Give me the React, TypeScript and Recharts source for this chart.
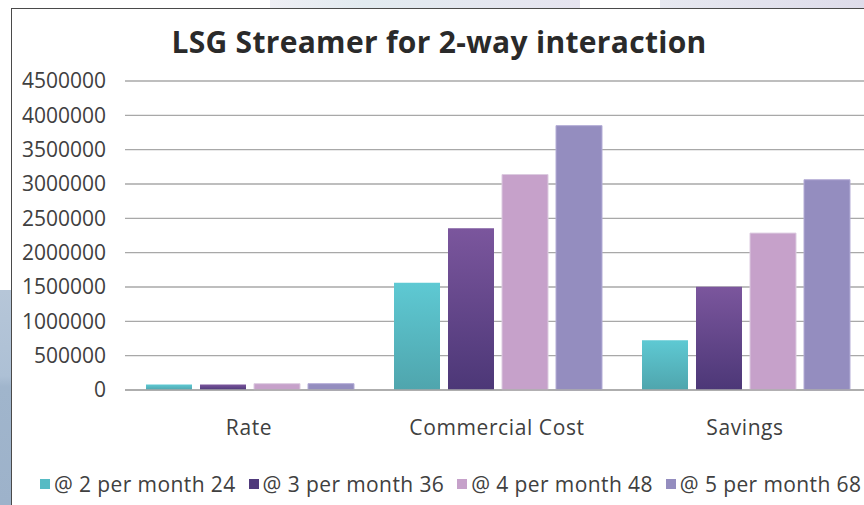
import React from 'react';
import { BarChart, Bar, XAxis, YAxis, CartesianGrid, Legend } from 'recharts';

const categories = ['Rate', 'Commercial Cost', 'Savings'];
const seriesNames = ['@ 2 per month 24', '@ 3 per month 36', '@ 4 per month 48', '@ 5 per month 68'];
const twoPerMonth = [80000, 1562000, 723000];
const threePerMonth = [80000, 2357000, 1504000];
const fourPerMonth = [92000, 3138000, 2285000];
const fivePerMonth = [92000, 3850000, 3062000];
const yTicks = [0, 500000, 1000000, 1500000, 2000000, 2500000, 3000000, 3500000, 4000000, 4500000];

const seriesValues = [twoPerMonth, threePerMonth, fourPerMonth, fivePerMonth];
const keys = ['s2', 's3', 's4', 's5'];
const legendColors = ['#56bbc4', '#503a7c', '#c6a1ca', '#948dbf'];
const fills = ['url(#gradTeal)', 'url(#gradPurple)', '#c6a1ca', '#948dbf'];
const strokes = ['none', 'none', '#dccbe0', '#b3acd6'];

const data = categories.map((name, i) => {
  const row: Record<string, string | number> = { name };
  keys.forEach((k, j) => {
    row[k] = seriesValues[j][i];
  });
  return row;
});

const FONT = '"Open Sans", "Liberation Sans", sans-serif';
const TEXT = '#404040';

const renderLegend = () => (
  <div
    style={{
      display: 'flex',
      alignItems: 'center',
      fontFamily: FONT,
      fontSize: 21,
      letterSpacing: 0.4,
      color: TEXT,
      whiteSpace: 'nowrap',
    }}
  >
    {seriesNames.map((n, i) => (
      <div key={n} style={{ display: 'flex', alignItems: 'center', marginRight: 13 }}>
        <span style={{ width: 10, height: 10, background: legendColors[i], marginRight: 4, display: 'inline-block' }} />
        <span>{n}</span>
      </div>
    ))}
  </div>
);

export default function App() {
  return (
    <div
      style={{
        position: 'absolute',
        left: 0,
        top: 0,
        width: 864,
        height: 505,
        overflow: 'hidden',
        background: '#ffffff',
      }}
    >
      {/* slide decoration behind the chart */}
      <div style={{ position: 'absolute', left: 270, top: 0, width: 310, height: 12, background: 'linear-gradient(90deg, #eeeef4, #e2ebf0 30%, #e6e4f0)' }} />
      <div style={{ position: 'absolute', left: 660, top: 0, width: 210, height: 12, background: 'linear-gradient(90deg, #e6e8f0, #dedcea)' }} />
      <div
        style={{
          position: 'absolute',
          left: 0,
          top: 290,
          width: 12,
          height: 215,
          background: 'linear-gradient(180deg, #b6c6d8 0%, #adc0d5 40%, #a0b5cc 45%, #9db2ca 100%)',
        }}
      />
      <div
        style={{
          position: 'absolute',
          left: 11,
          top: 8,
          width: 880,
          height: 520,
          background: '#ffffff',
          border: '1px solid #4a4a4a',
          boxSizing: 'border-box',
        }}
      >
        <div
          style={{
            position: 'absolute',
            left: 0,
            top: 12,
            width: 854,
            textAlign: 'center',
            fontFamily: FONT,
            fontWeight: 700,
            fontSize: 30,
            letterSpacing: 0.3,
            color: '#2a2a2a',
          }}
        >
          LSG Streamer for 2-way interaction
        </div>
        <div style={{ position: 'absolute', left: 0, top: 0 }}>
          <BarChart
            width={870}
            height={496}
            data={data}
            margin={{ top: 72, right: 13, bottom: 0, left: 0 }}
            barCategoryGap={21}
            barGap={8}
          >
            <defs>
              <linearGradient id="gradTeal" x1="0" y1="0" x2="0" y2="1">
                <stop offset="0%" stopColor="#5ec9d3" />
                <stop offset="100%" stopColor="#4fa5ad" />
              </linearGradient>
              <linearGradient id="gradPurple" x1="0" y1="0" x2="0" y2="1">
                <stop offset="0%" stopColor="#7b569d" />
                <stop offset="100%" stopColor="#4c3777" />
              </linearGradient>
            </defs>
            <CartesianGrid vertical={false} stroke="#a8a8a8" strokeWidth={1.3} />
            <XAxis
              dataKey="name"
              height={115}
              axisLine={{ stroke: '#a8a8a8', strokeWidth: 1.3 }}
              tickLine={false}
              tickSize={0}
              tickMargin={30}
              tick={{ fontSize: 21, fill: TEXT, fontFamily: FONT, letterSpacing: 0.6 }}
            />
            <YAxis
              width={113}
              domain={[0, 4500000]}
              ticks={yTicks}
              axisLine={false}
              tickLine={false}
              tickSize={0}
              tickMargin={19}
              tick={{ fontSize: 21, fill: TEXT, fontFamily: FONT }}
            />
            <Legend
              verticalAlign="middle"
              align="center"
              layout="horizontal"
              content={renderLegend}
              wrapperStyle={{ top: 461, left: 28, width: 900 }}
            />
            {keys.map((k, i) => (
              <Bar
                key={k}
                dataKey={k}
                name={seriesNames[i]}
                fill={fills[i]}
                stroke={strokes[i]}
                strokeWidth={1}
                isAnimationActive={false}
              />
            ))}
          </BarChart>
        </div>
      </div>
    </div>
  );
}
